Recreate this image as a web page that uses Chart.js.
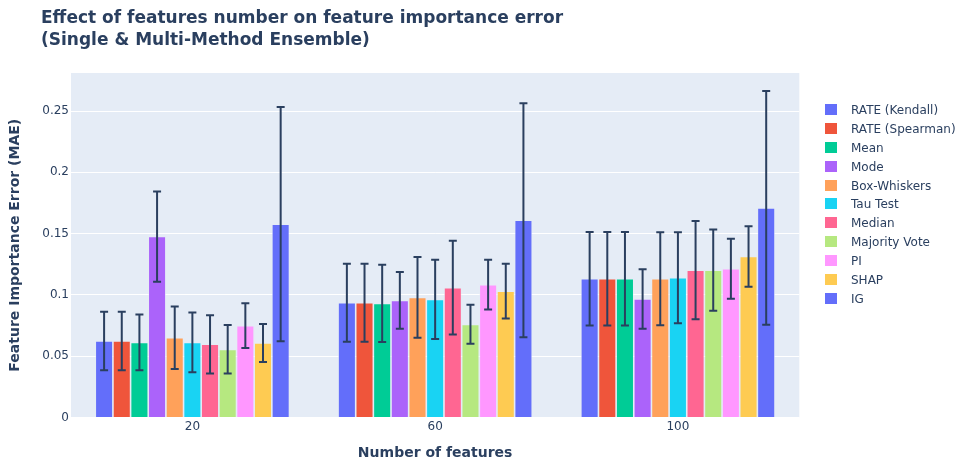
<!DOCTYPE html>
<html lang="en">
<head>
    <meta charset="UTF-8">
    <title>Feature importance error</title>
    <script src="https://cdn.jsdelivr.net/npm/chart.js"></script>
    <style>
        body {
            margin: 0;
            padding: 0;
            background: #fff;
            font-family: 'DejaVu Sans', Verdana, sans-serif;
            color: #2a3f5f;
        }
        .wrap {
            position: relative;
            width: 963px;
            height: 468px;
        }
        .title {
            position: absolute;
            left: 41px;
            top: 6px;
            font-size: 17px;
            font-weight: 700;
            line-height: 22px;
            white-space: nowrap;
        }
        .legend {
            position: absolute;
            left: 825px;
            top: 101px;
            font-size: 12px;
        }
        .legend div {
            height: 18.9px;
            line-height: 18.9px;
            white-space: nowrap;
        }
        .legend span {
            display: inline-block;
            width: 12px;
            height: 11px;
            margin-right: 14px;
            vertical-align: -1px;
        }
    </style>
</head>
<body>
    <div class="wrap">
        <canvas id="chart"></canvas>
        <div class="title">Effect of features number on feature importance error<br>(Single &amp; Multi-Method Ensemble)</div>
        <div class="legend" id="legend"></div>
    </div>

    <script>
        var categories = ['20', '60', '100'];
        var methods = ['RATE (Kendall)', 'RATE (Spearman)', 'Mean', 'Mode', 'Box-Whiskers', 'Tau Test',
                       'Median', 'Majority Vote', 'PI', 'SHAP', 'IG'];
        var colors = ['#636efa', '#EF553B', '#00cc96', '#ab63fa', '#FFA15A', '#19d3f3',
                      '#FF6692', '#B6E880', '#FF97FF', '#FECB52', '#636efa'];

        // mean error per method, one array per feature count
        var mean20 = [0.0624, 0.0624, 0.0613, 0.1476, 0.0651, 0.0613, 0.0597, 0.0556, 0.0749, 0.0608, 0.1577];
        var mean60 = [0.0936, 0.0936, 0.0931, 0.0955, 0.0980, 0.0963, 0.1059, 0.0760, 0.1083, 0.1031, 0.1609];
        var mean100 = [0.1132, 0.1132, 0.1132, 0.0966, 0.1132, 0.1140, 0.1202, 0.1202, 0.1213, 0.1313, 0.1710];

        // error bar half-length
        var err20 = [0.0238, 0.0238, 0.0228, 0.0368, 0.0255, 0.0243, 0.0238, 0.0198, 0.0182, 0.0155, 0.0955];
        var err60 = [0.0318, 0.0318, 0.0315, 0.0231, 0.0330, 0.0323, 0.0383, 0.0159, 0.0203, 0.0223, 0.0954];
        var err100 = [0.0382, 0.0382, 0.0382, 0.0243, 0.0379, 0.0372, 0.0400, 0.0332, 0.0245, 0.0247, 0.0954];

        var yTicks = [0, 0.05, 0.1, 0.15, 0.2, 0.25];

        var datasets = methods.map(function(name, i) {
            return {
                label: name,
                data: [mean20[i], mean60[i], mean100[i]],
                errors: [err20[i], err60[i], err100[i]],
                backgroundColor: colors[i],
                borderColor: 'rgba(229, 236, 246, 0.7)',
                borderWidth: 0.8,
                borderSkipped: 'bottom'
            };
        });

        var plotBg = {
            id: 'plotBg',
            beforeDraw: function(chart) {
                var a = chart.chartArea, ctx = chart.ctx;
                ctx.save();
                ctx.fillStyle = '#E5ECF6';
                ctx.fillRect(a.left, a.top, a.right - a.left, a.bottom - a.top);
                ctx.restore();
            }
        };

        var errorBars = {
            id: 'errorBars',
            afterDatasetsDraw: function(chart) {
                var ctx = chart.ctx, y = chart.scales.y;
                ctx.save();
                ctx.strokeStyle = '#2a3f5f';
                ctx.lineWidth = 2;
                chart.data.datasets.forEach(function(ds, i) {
                    var meta = chart.getDatasetMeta(i);
                    meta.data.forEach(function(bar, j) {
                        var v = ds.data[j], e = ds.errors[j];
                        var top = y.getPixelForValue(v + e);
                        var bot = y.getPixelForValue(v - e);
                        ctx.beginPath();
                        ctx.moveTo(bar.x, top);
                        ctx.lineTo(bar.x, bot);
                        ctx.moveTo(bar.x - 4, top);
                        ctx.lineTo(bar.x + 4, top);
                        ctx.moveTo(bar.x - 4, bot);
                        ctx.lineTo(bar.x + 4, bot);
                        ctx.stroke();
                    });
                });
                ctx.restore();
            }
        };

        Chart.defaults.font.family = "'DejaVu Sans', Verdana, sans-serif";
        Chart.defaults.color = '#2a3f5f';

        var chart = new Chart(document.getElementById('chart').getContext('2d'), {
            type: 'bar',
            data: {
                labels: categories,
                datasets: datasets
            },
            options: {
                responsive: true,
                maintainAspectRatio: false,
                animation: false,
                layout: {
                    padding: { top: 73, right: 163.7, bottom: 0, left: 0 }
                },
                datasets: {
                    bar: { categoryPercentage: 0.8, barPercentage: 1.0 }
                },
                plugins: {
                    legend: { display: false },
                    tooltip: { enabled: false }
                },
                scales: {
                    x: {
                        grid: { display: false, drawTicks: false },
                        border: { display: false },
                        ticks: { padding: 2, font: { size: 12 }, color: '#2a3f5f' },
                        title: {
                            display: true,
                            text: 'Number of features',
                            font: { size: 14, weight: 'bold' },
                            color: '#2a3f5f',
                            padding: { top: 0, bottom: 6.3 }
                        },
                        afterFit: function(scale) { scale.height = 50.5; }
                    },
                    y: {
                        min: 0,
                        max: 0.281,
                        afterBuildTicks: function(scale) {
                            scale.ticks = yTicks.map(function(v) { return { value: v }; });
                        },
                        grid: { color: '#ffffff', lineWidth: 1, drawTicks: false },
                        border: { display: false },
                        ticks: {
                            padding: 2,
                            font: { size: 12 },
                            color: '#2a3f5f',
                            callback: function(v) { return String(v); }
                        },
                        title: {
                            display: true,
                            text: 'Feature Importance Error (MAE)',
                            font: { size: 14, weight: 'bold' },
                            color: '#2a3f5f',
                            padding: { top: 6.6, bottom: 0 }
                        },
                        afterFit: function(scale) { scale.width = 71; }
                    }
                }
            },
            plugins: [plotBg, errorBars]
        });

        var legend = document.getElementById('legend');
        methods.forEach(function(name, i) {
            var row = document.createElement('div');
            var box = document.createElement('span');
            box.style.background = colors[i];
            row.appendChild(box);
            row.appendChild(document.createTextNode(name));
            legend.appendChild(row);
        });
    </script>
</body>
</html>
